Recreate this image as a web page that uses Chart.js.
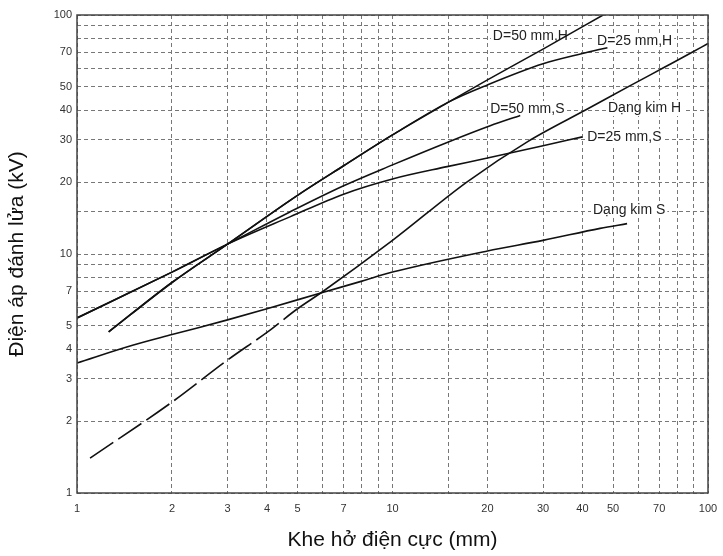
<!DOCTYPE html>
<html>
<head>
<meta charset="utf-8">
<script src="https://cdn.jsdelivr.net/npm/chart.js@4.4.1/dist/chart.umd.min.js"></script>
<style>
  html, body { margin: 0; padding: 0; background: #fff; }
</style>
</head>
<body>
<canvas id="myChart" width="723" height="556"></canvas>
<script>
// khe hở (mm) / điện áp (kV)
const d50hX = [1.26, 2, 3, 5, 7, 10, 15.2, 20, 30, 46.5];
const d50hY = [4.72, 7.6, 11, 17.6, 23.4, 31.5, 43.5, 53.5, 72, 100];

const d25hX = [1.26, 2, 3, 5, 7, 10, 15.2, 20, 30, 40, 48];
const d25hY = [4.72, 7.6, 11, 17.6, 23.4, 31.5, 43.5, 51, 62.5, 69, 73];

const d50sX = [1, 2, 3, 4.73, 7, 10, 14.9, 20.4, 25.4];
const d50sY = [5.4, 8.4, 11, 15.0, 19.3, 23.6, 29.3, 34.4, 38];

const d25sX = [1, 2, 3, 4.73, 7, 10, 14.9, 20, 30, 40];
const d25sY = [5.4, 8.4, 11, 14.3, 17.8, 20.6, 23.2, 25.2, 28.4, 30.9];

const kimHX = [1.1, 2, 3, 4, 5, 6, 10, 17.2, 26.9, 41.6, 56.5, 72, 87.6, 100];
const kimHY = [1.4, 2.4, 3.6, 4.7, 5.9, 6.95, 11.4, 20, 29.6, 40.5, 50.5, 60, 69, 76];
const kimHDashedUntil = 5;

const kimSX = [1, 1.5, 2, 3, 4, 6, 8, 10, 20, 30, 45.5, 55.4];
const kimSY = [3.5, 4.15, 4.6, 5.3, 5.9, 6.9, 7.7, 8.4, 10.3, 11.4, 12.8, 13.4];

const tickLabels = [1, 2, 3, 4, 5, 7, 10, 20, 30, 40, 50, 70, 100];

const notes = [
    { text: 'D=50 mm,H', x: 20.8, y: 81.7 },
    { text: 'D=25 mm,H', x: 44.5, y: 77.9 },
    { text: 'D=50 mm,S', x: 20.4, y: 40.4 },
    { text: 'Dạng kim H', x: 48.2, y: 40.8 },
    { text: 'D=25 mm,S', x: 41.4, y: 30.9 },
    { text: 'Dạng kim S', x: 43.2, y: 15.3 }
];

const zip = (xs, ys) => xs.map((x, i) => ({ x: x, y: ys[i] }));

const line = (label, xs, ys) => ({
    label: label,
    data: zip(xs, ys),
    borderColor: '#111',
    borderWidth: 1.6,
    pointRadius: 0,
    fill: false,
    cubicInterpolationMode: 'monotone'
});

const kimH = line('Dạng kim H', kimHX, kimHY);
kimH.segment = {
    borderDash: ctx => ctx.p1.parsed.x <= kimHDashedUntil ? [28, 6] : undefined
};

const notePlugin = {
    id: 'notes',
    beforeDatasetsDraw(chart) {
        const { ctx, scales: { x, y } } = chart;
        ctx.save();
        ctx.font = '14px "Liberation Sans", Arial, sans-serif';
        ctx.textBaseline = 'middle';
        notes.forEach(n => {
            const px = x.getPixelForValue(n.x);
            const py = y.getPixelForValue(n.y);
            const w = ctx.measureText(n.text).width;
            ctx.fillStyle = '#fff';
            ctx.fillRect(px - 2, py - 8, w + 4, 16);
            ctx.fillStyle = '#222';
            ctx.fillText(n.text, px, py);
        });
        ctx.restore();
    }
};

const framePlugin = {
    id: 'frame',
    afterDatasetsDraw(chart) {
        const { ctx, chartArea: a } = chart;
        ctx.save();
        ctx.strokeStyle = '#444';
        ctx.lineWidth = 1.5;
        ctx.strokeRect(a.left, a.top, a.right - a.left, a.bottom - a.top);
        ctx.restore();
    }
};

const tickText = v => {
    const r = Math.round(v * 1000) / 1000;
    return tickLabels.includes(r) ? String(r) : '';
};

const tickFont = { family: '"Liberation Sans", Arial, sans-serif', size: 11 };
const titleFont = { family: '"Liberation Sans", Arial, sans-serif', size: 21 };

const myChart = new Chart(document.getElementById('myChart'), {
    type: 'line',
    data: {
        datasets: [
            line('D=50 mm,H', d50hX, d50hY),
            line('D=25 mm,H', d25hX, d25hY),
            line('D=50 mm,S', d50sX, d50sY),
            line('D=25 mm,S', d25sX, d25sY),
            kimH,
            line('Dạng kim S', kimSX, kimSY)
        ]
    },
    options: {
        responsive: false,
        animation: false,
        layout: { padding: { left: 0, top: 15, right: 15, bottom: 0 } },
        plugins: {
            legend: { display: false },
            tooltip: { enabled: false }
        },
        scales: {
            x: {
                type: 'logarithmic',
                min: 1,
                max: 100,
                afterFit: s => {
                    s.height = 63;
                    s.paddingLeft = 0;
                    s.paddingRight = 0;
                },
                grid: { color: '#777', lineWidth: 1, drawTicks: false },
                border: { display: false, dash: [4, 3] },
                ticks: {
                    autoSkip: false,
                    maxRotation: 0,
                    padding: 9,
                    color: '#333',
                    font: tickFont,
                    callback: tickText
                },
                title: {
                    display: true,
                    text: 'Khe hở điện cực (mm)',
                    color: '#111',
                    font: titleFont,
                    padding: { top: 0, bottom: 3 }
                }
            },
            y: {
                type: 'logarithmic',
                min: 1,
                max: 100,
                afterFit: s => {
                    s.width = 77;
                    s.paddingTop = 0;
                    s.paddingBottom = 0;
                },
                grid: { color: '#777', lineWidth: 1, drawTicks: false },
                border: { display: false, dash: [4, 3] },
                ticks: {
                    autoSkip: false,
                    padding: 5,
                    color: '#333',
                    font: tickFont,
                    callback: tickText
                },
                title: {
                    display: true,
                    text: 'Điện áp đánh lửa (kV)',
                    color: '#111',
                    font: titleFont,
                    padding: { top: 5, bottom: 0 }
                }
            }
        }
    },
    plugins: [notePlugin, framePlugin]
});
</script>
</body>
</html>
